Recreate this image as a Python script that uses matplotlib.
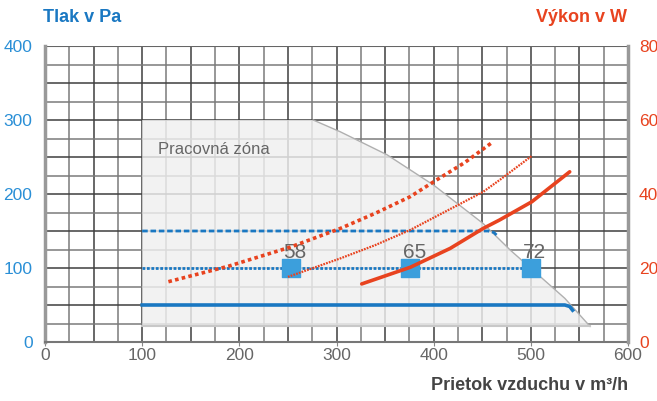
import matplotlib
matplotlib.use("Agg")
import matplotlib.pyplot as plt
import numpy as np

# Working zone outline (flow m3/h, pressure Pa)
zone_x = [100, 100, 276, 304, 352, 400, 451, 479, 535, 561, 561]
zone_y = [21, 300, 300, 284, 253, 212, 160, 124, 59, 21, 21]

# Blue pressure lines (Pa)
p_high_x = [100, 456, 462, 466]
p_high_y = [150, 150, 148, 143]
p_mid_x = [100, 500]
p_mid_y = [100, 100]
p_low_x = [100, 535, 540, 543]
p_low_y = [50, 50, 48, 43]

# Operating points
op_x = [253, 376, 500]
op_y = [100, 100, 100]
op_labels = ["58", "65", "72"]

# Red power curves (W)
pw_hi_x = [127, 189, 252, 304, 340, 376, 403, 432, 460]
pw_hi_y = [16.3, 20.5, 25.6, 30.7, 34.8, 39.3, 43.8, 48.5, 53.9]
pw_mid_x = [250, 304, 340, 376, 427, 451, 468, 501]
pw_mid_y = [17.6, 22.6, 26.2, 30.3, 37.3, 40.6, 43.8, 50.3]
pw_lo_x = [326, 376, 417, 451, 468, 501, 540]
pw_lo_y = [15.7, 20.2, 25.3, 30.7, 33.0, 37.9, 46.0]

BLUE = "#1a78c2"
TICKBLUE = "#2a8fd6"
SQ = "#3c9fdc"
RED = "#e8431f"

plt.rcParams["font.family"] = ["Liberation Sans", "DejaVu Sans"]

fig = plt.figure(figsize=(6.57, 4.01), dpi=100)
ax = fig.add_axes([45 / 657, 59 / 401, 583 / 657, 296 / 401])

ax.set_xlim(0, 600)
ax.set_ylim(0, 400)

# grid every 25
for i, gx in enumerate(np.arange(25, 600, 25)):
    ax.axvline(gx, color="#3f3f3f" if i % 2 else "#7a7a7a", lw=1.1, zorder=1)
for i, gy in enumerate(np.arange(25, 401, 25)):
    ax.axhline(gy, color="#3f3f3f" if i % 2 else "#7a7a7a", lw=1.1, zorder=1)

ax.fill(zone_x, zone_y, facecolor="#f0f0f0", edgecolor="none", alpha=0.82, zorder=2)
ax.plot(zone_x[2:-1], zone_y[2:-1], color="#b0b0b0", lw=1.0, zorder=2)
ax.plot([100, 561], [21, 21], color="#c8c8c8", lw=1.5, zorder=2)
ax.text(116, 254, "Pracovná zóna", fontsize=12, color="#666666", zorder=3)

ax.plot(p_high_x, p_high_y, color=BLUE, lw=2, ls=(0, (2, 1)), zorder=4)
ax.plot(p_mid_x, p_mid_y, color=BLUE, lw=2, ls=(0, (1, 0.6)), zorder=4)
ax.plot(p_low_x, p_low_y, color=BLUE, lw=2.6, zorder=4)

ax.scatter(op_x, op_y, marker="s", s=160, color=SQ, zorder=6)
for x, y, lab in zip(op_x, op_y, op_labels):
    ax.text(x + 4, y + 13, lab, ha="center", va="baseline", fontsize=15, color="#666666", zorder=6)

ax2 = ax.twinx()
ax2.set_ylim(0, 80)
ax2.plot(pw_hi_x, pw_hi_y, color=RED, lw=2.6, ls=(0, (1, 0.9)), zorder=5)
ax2.plot(pw_mid_x, pw_mid_y, color=RED, lw=1.6, ls=(0, (0.8, 0.5)), zorder=5)
ax2.plot(pw_lo_x, pw_lo_y, color=RED, lw=2.6, solid_capstyle="round", zorder=5)

ax.set_xticks(range(0, 601, 100))
ax.set_yticks(range(0, 401, 100))
ax2.set_yticks(range(0, 81, 20))
ax.tick_params(axis="x", colors="#888888", labelcolor="#666666", labelsize=12.5, length=3, pad=1)
ax.tick_params(axis="y", labelcolor=TICKBLUE, labelsize=12.5, length=0, pad=9)
ax2.tick_params(axis="y", labelcolor=RED, labelsize=12.5, length=0, pad=8)

for a in (ax, ax2):
    for side in ("top", "right", "left", "bottom"):
        a.spines[side].set_visible(False)
ax.spines["left"].set_visible(True)
ax.spines["left"].set_color("#999999")
ax.spines["left"].set_linewidth(2.5)
ax.spines["bottom"].set_visible(True)
ax.spines["bottom"].set_color("#777777")
ax.spines["bottom"].set_linewidth(1.5)
ax2.spines["right"].set_visible(True)
ax2.spines["right"].set_color("#999999")
ax2.spines["right"].set_linewidth(2.5)
ax.axhline(400, color="#666666", lw=1.5, zorder=1)

fig.text(43 / 657, 1 - 18 / 401, "Tlak v Pa", color=BLUE, fontsize=13, fontweight="bold", va="center")
fig.text(627 / 657, 1 - 18 / 401, "Výkon v W", color=RED, fontsize=13, fontweight="bold",
         va="center", ha="right")
fig.text(628 / 657, 1 - 386 / 401, "Prietok vzduchu v m³/h", color="#444444", fontsize=13,
         fontweight="bold", va="center", ha="right")

fig.savefig("out.png", dpi=100)
